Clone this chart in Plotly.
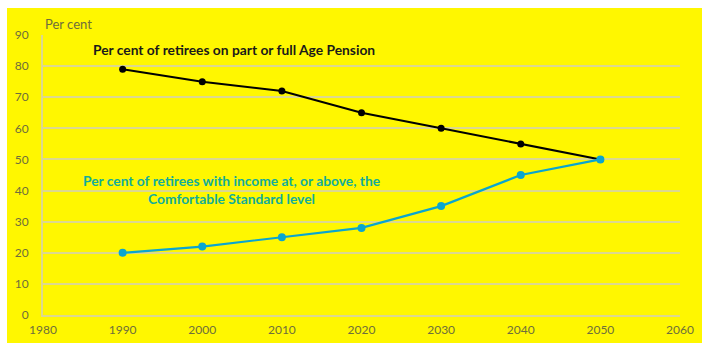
import plotly.graph_objects as go

years = [1990, 2000, 2010, 2020, 2030, 2040, 2050]
age_pension = [79, 75, 72, 65, 60, 55, 50]
comfortable = [20, 22, 25, 28, 35, 45, 50]

x_ticks = [1980, 1990, 2000, 2010, 2020, 2030, 2040, 2050, 2060]
y_ticks = [0, 10, 20, 30, 40, 50, 60, 70, 80, 90]

YELLOW = "#fff700"
GRID = "#dcd88e"
TICK = "#6e6e3c"

fig = go.Figure()
fig.add_trace(go.Scatter(x=years, y=age_pension, mode="lines+markers",
                         line=dict(color="#000000", width=2),
                         marker=dict(color="#000000", size=7), hoverinfo="skip"))
fig.add_trace(go.Scatter(x=years, y=comfortable, mode="lines+markers",
                         line=dict(color="#0aa5d0", width=2.2),
                         marker=dict(color="#0aa5d0", size=8), hoverinfo="skip"))

W, H = 702, 343
L, R, T, B = 43, 22, 35, 28
pw, ph = W - L - R, H - T - B

fig.update_layout(
    width=W, height=H,
    margin=dict(l=L, r=R, t=T, b=B, autoexpand=False),
    paper_bgcolor=YELLOW, plot_bgcolor=YELLOW,
    showlegend=False,
    font=dict(family="Lato", size=12, color=TICK),
    xaxis=dict(range=[1980, 2060], tickvals=x_ticks, showgrid=False, zeroline=False,
               showline=True, linecolor=GRID, linewidth=2, ticks="", ticklen=0,
               automargin=False, ticklabelstandoff=3, tickfont=dict(size=12, color=TICK)),
    yaxis=dict(range=[0, 90], tickvals=y_ticks, showgrid=True, gridcolor=GRID, gridwidth=2,
               zeroline=False, showline=True, linecolor=GRID, linewidth=2, ticks="",
               automargin=False, ticklabelstandoff=10, tickfont=dict(size=12, color=TICK)),
    shapes=[
        dict(type="rect", xref="paper", yref="paper", x0=-L / pw, x1=(7 - L) / pw,
             y0=-B / ph, y1=1 + T / ph, fillcolor="white", line_width=0, layer="below"),
        dict(type="rect", xref="paper", yref="paper", x0=-L / pw, x1=1 + R / pw,
             y0=1 + (T - 8) / ph, y1=1 + T / ph, fillcolor="white", line_width=0, layer="below"),
    ],
    annotations=[
        dict(text="Per cent", xref="paper", yref="paper", x=0, y=1 + (T - 24) / ph,
             xanchor="left", yanchor="middle", showarrow=False,
             font=dict(size=13, color=TICK)),
        dict(text="<b>Per cent of retirees on part or full Age Pension</b>", x=2004, y=85.2,
             xanchor="center", yanchor="middle", showarrow=False,
             font=dict(size=13.8, color="#1a1a1a")),
        dict(text="<b>Per cent of retirees with income at, or above, the<br>Comfortable Standard level</b>",
             x=2003.7, y=40.3, xanchor="center", yanchor="middle", showarrow=False,
             font=dict(size=13.8, color="#12ad9a")),
    ],
)

fig.write_html("out.html")
